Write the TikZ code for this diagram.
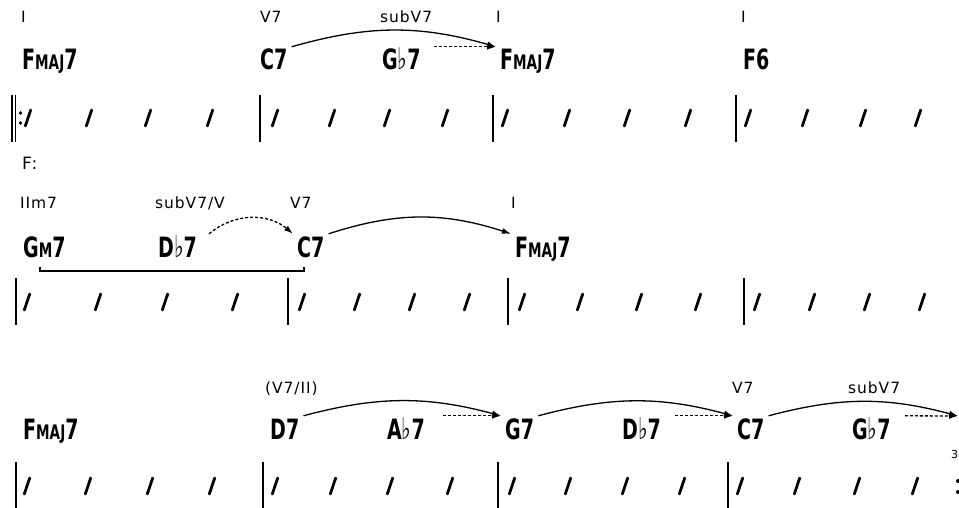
\documentclass[tikz,border=0pt]{standalone}
\usepackage{fontspec}
\usetikzlibrary{arrows.meta}
\newfontfamily\chordfont{DejaVu Sans}[FakeStretch=0.68]
\newfontfamily\romanfont{DejaVu Sans}[LetterSpace=6]
\newcommand\mj{{\fontsize{20}{20}\selectfont MAJ}}
\newcommand\mi{{\fontsize{20}{20}\selectfont M}}
\newcommand\fl{{\mdseries\fontsize{30}{30}\selectfont ♭}}
\tikzset{chord/.style={anchor=base west, inner xsep=4pt, inner ysep=3pt, text height=20pt, text depth=0pt,
                       font=\chordfont\bfseries\fontsize{28}{28}\selectfont},
         roman/.style={anchor=base west, inner sep=0pt, font=\romanfont\fontsize{15.5}{17}\selectfont},
         res/.style={-{Latex[length=9pt,width=6pt]}, line width=1.3pt},
         sub/.style={res, dash pattern=on 3pt off 2pt},
         bar/.style={line width=1.2pt},
         beat/.style={line width=2.8pt, line cap=round},
        }

\begin{document}
\begin{tikzpicture}[x=1pt,y=-1pt]
        \clip(0,0)rectangle(959,508);
        \fill[white](0,0)rectangle(959,508);

        \node[roman](l1)at(21,23){I};
        \node[roman](l2)at(260,23){V7};
        \node[roman](l3)at(380,23){subV7};
        \node[roman](l4)at(496,23){I};
        \node[roman](l5)at(741,23){I};

        \node[chord](fa)at(18,70){F\mj7};
        \node[chord](ca)at(256,70){C7};
        \node[chord](gfa)at(378,70){G\fl7};
        \node[chord](fb)at(496,70){F\mj7};
        \node[chord](fsix)at(739,70){F6};

        \draw[res](ca.north east) to[bend left=16] (fb.north west);
        \draw[sub]([xshift=9pt]gfa.north east)--(fb.north west);

        \draw[bar](12,95)--(12,142);
        \draw[bar](15.5,95)--(15.5,142);
        \fill(20.5,113)circle(1.8pt);
        \fill(20.5,123)circle(1.8pt);
        \foreach \x in {260,493,736}
            \draw[bar](\x,95)--(\x,142);
        \foreach \x in {28,89,148,210,275,332,387,445,505,567,627,688,748,805,863,918}
            \draw[beat](\x-2.7,126)--(\x+2.7,110);

        \node[roman, font=\romanfont\fontsize{17}{19}\selectfont](key)at(22,170){F:};

        \node[roman](l6)at(20,208){IIm7};
        \node[roman](l7)at(155,208){subV7/V};
        \node[roman](l8)at(290,208){V7};
        \node[roman](l9)at(511,208){I};

        \node[chord](gm)at(19,257){G\mi7};
        \node[chord](dfb)at(154,257){D\fl7};
        \node[chord](cb)at(293,257){C7};
        \node[chord](fc)at(511,257){F\mj7};

        \draw[sub]([xshift=8pt]dfb.north east) to[bend left=40] (cb.north west);
        \draw[res](cb.north east) to[bend left=18] (fc.north west);
        \draw[line width=1.2pt](40,267)--(40,271)--(304,271)--(304,267);

        \foreach \x in {16,288,508,744}
            \draw[bar](\x,278)--(\x,325);
        \foreach \x in {27,98,165,235,302,357,412,467,522,580,639,698,757,812,867,922}
            \draw[beat](\x-2.7,310)--(\x+2.7,294);

        \node[roman](l10)at(265,393){(V7/II)};
        \node[roman](l11)at(732,393){V7};
        \node[roman](l12)at(848,393){subV7};

        \node[chord](fd)at(19,439){F\mj7};
        \node[chord](dd)at(266,439){D7};
        \node[chord](afd)at(383,439){A\fl7};
        \node[chord](gd)at(501,439){G7};
        \node[chord](dfd)at(618,439){D\fl7};
        \node[chord](cd)at(733,439){C7};
        \node[chord](gfd)at(848,439){G\fl7};
        \coordinate(nxt)at(958,416);

        \draw[res](dd.north east) to[bend left=15] (gd.north west);
        \draw[sub]([xshift=14pt]afd.north east)--(gd.north west);
        \draw[res](gd.north east) to[bend left=15] (cd.north west);
        \draw[sub]([xshift=10pt]dfd.north east)--(cd.north west);
        \draw[res](cd.north east) to[bend left=15] (nxt);
        \draw[sub]([xshift=10pt]gfd.north east)--(nxt);

        \foreach \x in {16,263,498,728}
            \draw[bar](\x,462)--(\x,510);
        \foreach \x in {27,88,150,212,275,333,390,450,512,568,625,682,740,797,857,915}
            \draw[beat](\x-2.7,494)--(\x+2.7,478);
        \node[roman, font=\romanfont\fontsize{11}{12}\selectfont](three)at(951,458){3};
        \fill(958,481)circle(2pt);
        \fill(958,492)circle(2pt);
    \end{tikzpicture}
\end{document}
